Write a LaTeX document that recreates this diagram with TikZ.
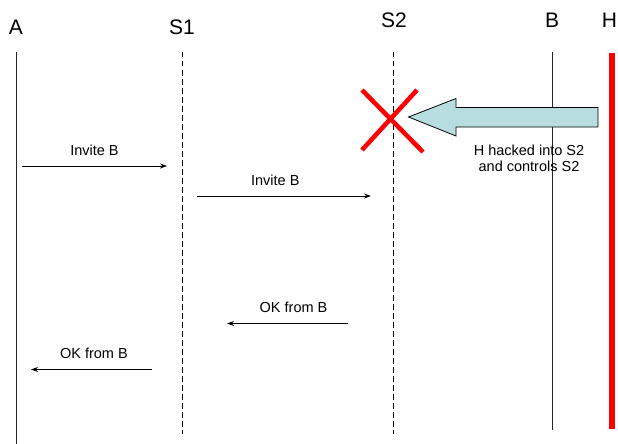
\documentclass[tikz,border=0pt]{standalone}
\usepackage{fontspec}
\setmainfont{Liberation Sans}
\usetikzlibrary{arrows.meta}
\definecolor{hackfill}{RGB}{183,221,224}
\tikzset{
  head/.style={font=\fontsize{21}{24}\selectfont, inner sep=0pt, anchor=center},
  lbl/.style={font=\fontsize{14.5}{17}\selectfont, inner sep=0pt, anchor=center},
  solidlife/.style={draw=black!85, line width=1pt},
  dashlife/.style={draw=black, line width=0.9pt, dash pattern=on 5.5pt off 3.5pt},
  msg/.style={draw=black, line width=0.9pt, -{Stealth[length=7pt,width=5pt]}},
  hacker/.style={draw=red, line width=5.5pt},
  crossline/.style={draw=red, line width=4.5pt},
}
\begin{document}
\begin{tikzpicture}[x=1pt,y=-1pt]
\useasboundingbox (0,0) rectangle (618,444);
% heads
\node[head] (hA) at (16,27) {A};
\node[head] (hS1) at (182,27) {S1};
\node[head] (hS2) at (394,20) {S2};
\node[head] (hB) at (552,20) {B};
\node[head] (hH) at (609.5,20) {H};
% lifeline ends
\coordinate (At) at (16,52); \coordinate (Ab) at (16,444);
\coordinate (S1t) at (182,52); \coordinate (S1b) at (182,434);
\coordinate (S2t) at (393,52); \coordinate (S2b) at (393,434);
\coordinate (Bt) at (552,52); \coordinate (Bb) at (552,430);
\coordinate (Ht) at (612,53); \coordinate (Hb) at (612,429);
\draw[solidlife] (At) -- (Ab);
\draw[dashlife] (S1t) -- (S1b);
\draw[dashlife] (S2t) -- (S2b);
\draw[solidlife] (Bt) -- (Bb);
\draw[hacker] (Ht) -- (Hb);
% messages
\coordinate (m1s) at (22,166); \coordinate (m1e) at (167,166);
\draw[msg] (m1s) -- (m1e) node[lbl, midway, yshift=16pt] (l1) {Invite B};
\coordinate (m2s) at (197,196); \coordinate (m2e) at (371,196);
\draw[msg] (m2s) -- (m2e) node[lbl, pos=0.45, yshift=16pt] (l2) {Invite B};
\coordinate (m3s) at (348,323.5); \coordinate (m3e) at (227,323.5);
\draw[msg] (m3s) -- (m3e) node[lbl, pos=0.45, yshift=16pt] (l3) {OK from B};
\coordinate (m4s) at (152,369.5); \coordinate (m4e) at (31,369.5);
\draw[msg] (m4s) -- (m4e) node[lbl, pos=0.48, yshift=16pt] (l4) {OK from B};
% cross at S2
\coordinate (c1) at (362,90); \coordinate (c2) at (423,152);
\coordinate (c3) at (417,90); \coordinate (c4) at (362,150);
\draw[crossline] (c1) -- (c2);
\draw[crossline] (c3) -- (c4);
% block arrow from H
\draw[draw=black, line width=0.8pt, fill=hackfill]
  (598,107.5) -- (456,107.5) -- (456,98.5) -- (408.5,117) -- (456,136) -- (456,127) -- (598,127) -- cycle;
\node[lbl, align=center] (note) at (529,158.5) {H hacked into S2\\[-1.5pt]and controls S2};
\end{tikzpicture}
\end{document}
